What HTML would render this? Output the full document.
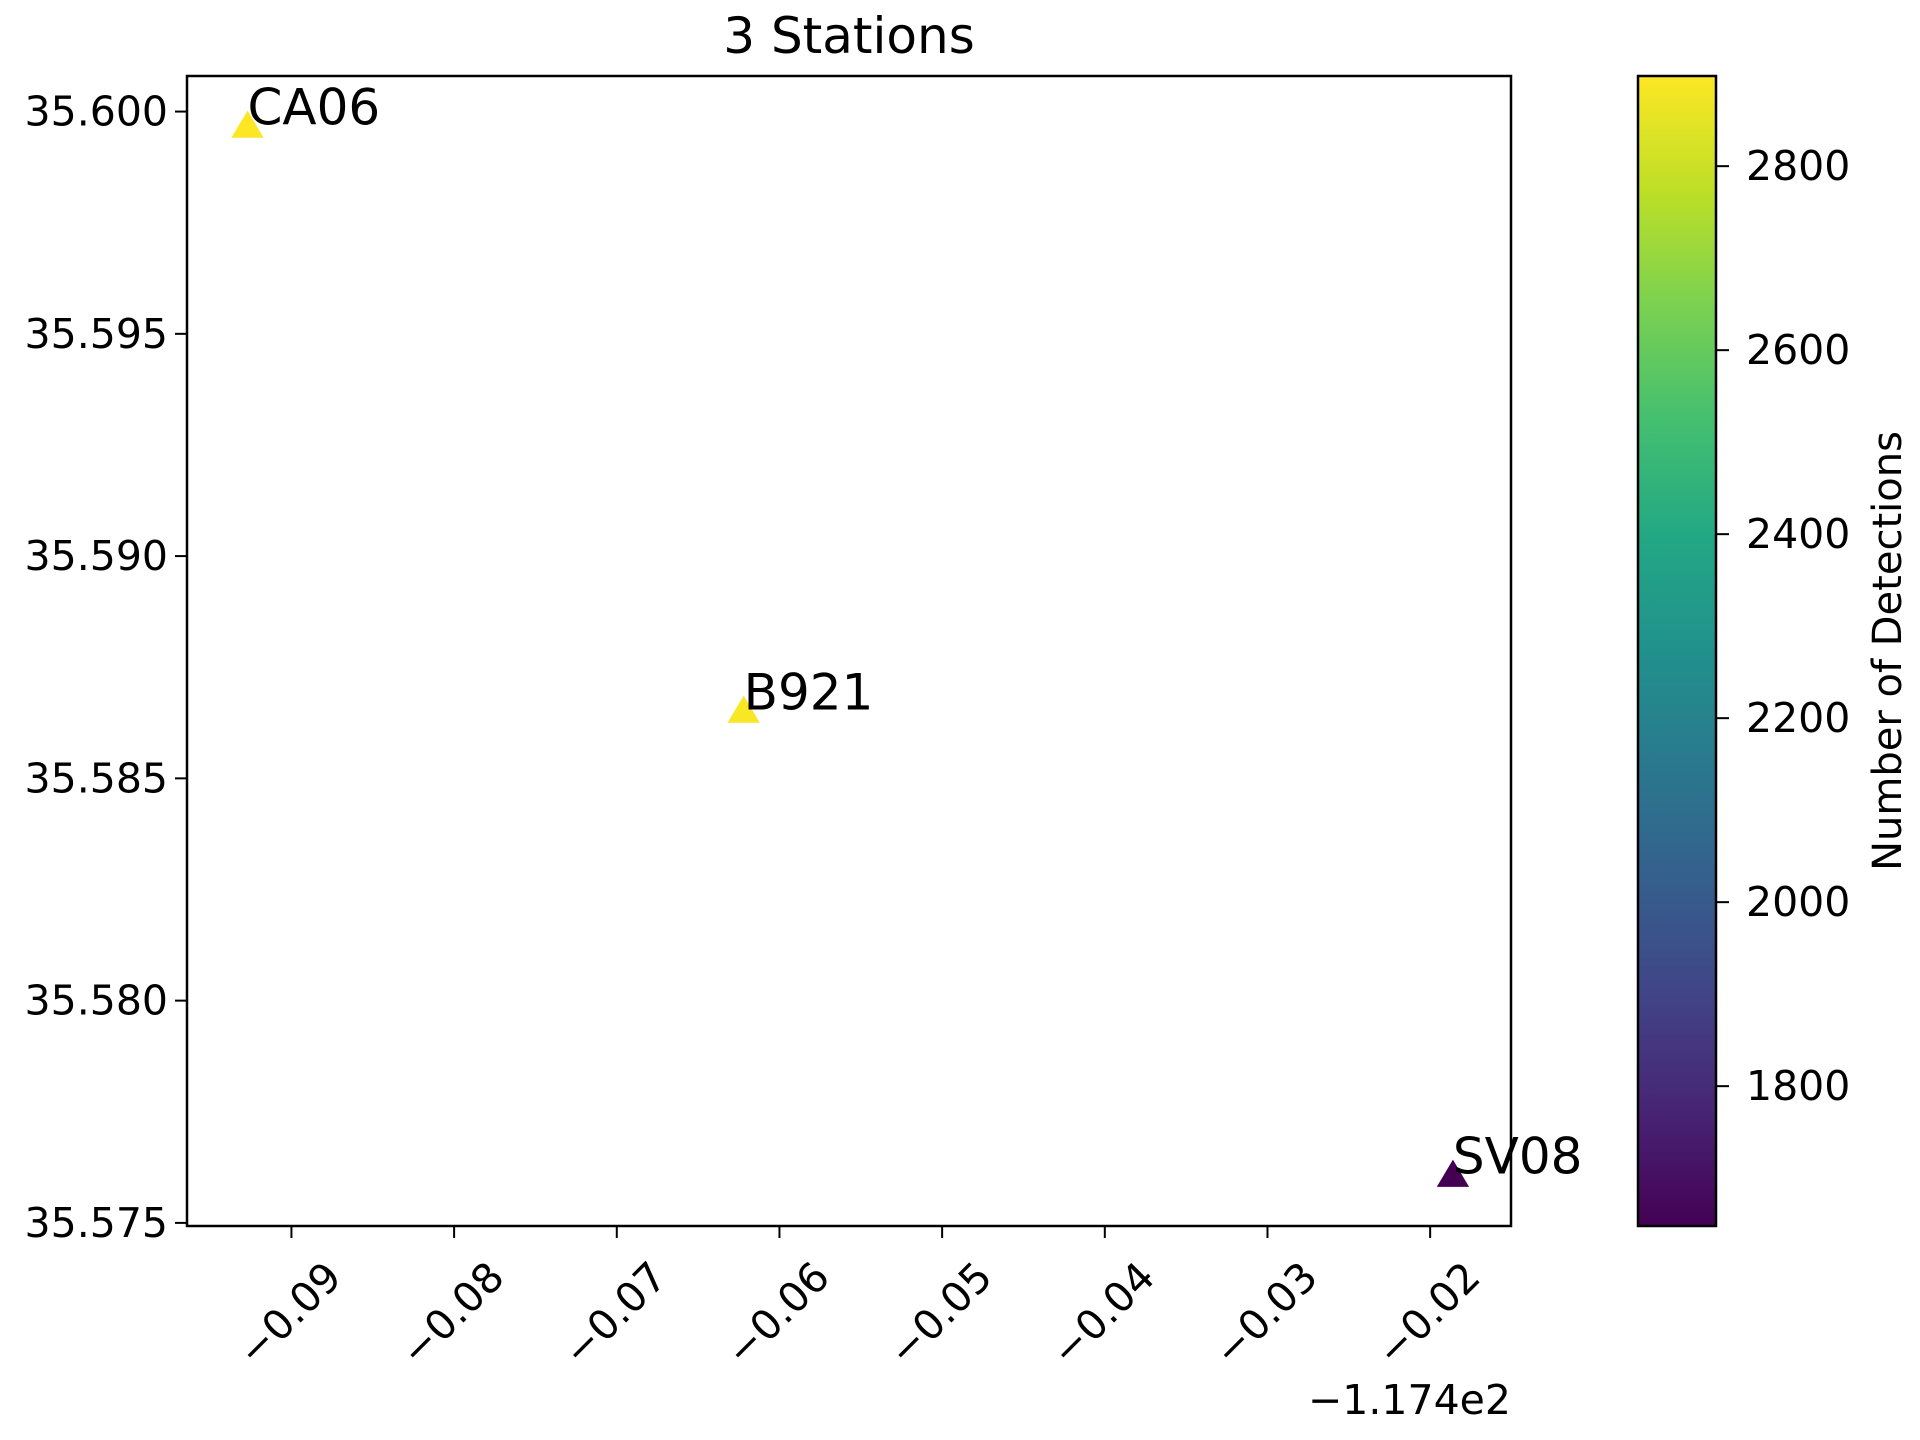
<!DOCTYPE html>
<html><head><meta charset="utf-8"><style>html,body{margin:0;padding:0;background:#fff}svg{display:block}</style></head>
<body>
<svg id="chart" width="1920" height="1440" viewBox="0 0 1920 1440" xmlns="http://www.w3.org/2000/svg" font-family="DejaVu Sans, Liberation Sans, sans-serif">
<defs>
<linearGradient id="viridis" x1="0" y1="1" x2="0" y2="0">
<stop offset="0" stop-color="#440154"/><stop offset="0.1" stop-color="#482475"/><stop offset="0.2" stop-color="#414487"/><stop offset="0.3" stop-color="#355f8d"/><stop offset="0.4" stop-color="#2a788e"/><stop offset="0.5" stop-color="#21918c"/><stop offset="0.6" stop-color="#22a884"/><stop offset="0.7" stop-color="#44bf70"/><stop offset="0.8" stop-color="#7ad151"/><stop offset="0.9" stop-color="#bddf26"/><stop offset="1" stop-color="#fde725"/>
</linearGradient>
</defs>
<text x="849" y="36" font-size="50" text-anchor="middle" dominant-baseline="central">3 Stations</text>
<g id="plot"></g>
<rect x="187" y="76" width="1324" height="1150" fill="none" stroke="#000" stroke-width="2.5"/>
<rect x="1638" y="76" width="78" height="1150" fill="url(#viridis)" stroke="#000" stroke-width="2.5"/>
<text x="1511" y="1414" font-size="41" text-anchor="end">−1.174e2</text>
<text transform="translate(1888,651) rotate(-90)" font-size="40" text-anchor="middle" dominant-baseline="central">Number of Detections</text>
</svg>
<script>
const stations = ["CA06", "B921", "SV08"];
const lonOffsets = [-0.0927, -0.0622, -0.0186];
const lats = [35.59964, 35.58648, 35.57604];
const detections = [2898, 2890, 1648];
const xTicks = [-0.09, -0.08, -0.07, -0.06, -0.05, -0.04, -0.03, -0.02];
const xTickLabels = ["−0.09", "−0.08", "−0.07", "−0.06", "−0.05", "−0.04", "−0.03", "−0.02"];
const yTicks = [35.575, 35.580, 35.585, 35.590, 35.595, 35.600];
const yTickLabels = ["35.575", "35.580", "35.585", "35.590", "35.595", "35.600"];
const cTicks = [1800, 2000, 2200, 2400, 2600, 2800];
const cTickLabels = ["1800", "2000", "2200", "2400", "2600", "2800"];

const L=187,R=1511,T=76,B=1226;
const xMin=-0.09642,xMax=-0.01503,yMin=35.57493,yMax=35.6008,cMin=1648,cMax=2898;
const sx=v=>L+(v-xMin)/(xMax-xMin)*(R-L);
const sy=v=>B-(v-yMin)/(yMax-yMin)*(B-T);
const sc=v=>B-(v-cMin)/(cMax-cMin)*(B-T);
const stops=[[68,1,84],[72,36,117],[65,68,135],[53,95,141],[42,120,142],[33,145,140],[34,168,132],[68,191,112],[122,209,81],[189,223,38],[253,231,37]];
function cmap(v){let t=Math.max(0,Math.min(1,(v-cMin)/(cMax-cMin)))*10;let i=Math.min(9,Math.floor(t)),f=t-i;const a=stops[i],b=stops[i+1];return `rgb(${a.map((c,k)=>Math.round(c+(b[k]-c)*f)).join(',')})`;}
const NS="http://www.w3.org/2000/svg",svg=document.getElementById('chart'),g=document.getElementById('plot');
function mk(tag,attrs,parent,text){const e=document.createElementNS(NS,tag);for(const k in attrs)e.setAttribute(k,attrs[k]);if(text!==undefined)e.textContent=text;(parent||svg).appendChild(e);return e;}
xTicks.forEach((v,i)=>{const x=sx(v);
const t=mk('line',{x1:x,y1:B,x2:x,y2:B+12,stroke:'#000','stroke-width':2});


const l=mk('text',{x:x-2,y:B+88,'font-size':41,'text-anchor':'middle','dominant-baseline':'central',transform:`rotate(-45 ${x-2} ${B+88})`},svg,xTickLabels[i]);

});
yTicks.forEach((v,i)=>{const y=sy(v);
const t=mk('line',{x1:L-12,y1:y,x2:L,y2:y,stroke:'#000','stroke-width':2});


const l=mk('text',{x:L-19,y:y,'font-size':41,'text-anchor':'end','dominant-baseline':'central'},svg,yTickLabels[i]);

});
cTicks.forEach((v,i)=>{const y=sc(v);
const t=mk('line',{x1:1716,y1:y,x2:1729,y2:y,stroke:'#000','stroke-width':2});


const l=mk('text',{x:1746,y:y,'font-size':41,'dominant-baseline':'central'},svg,cTickLabels[i]);

});
stations.forEach((s,i)=>{const x=sx(lonOffsets[i]),y=sy(lats[i]),r=17;
const p=mk('polygon',{points:`${x},${y-r} ${x+r*0.95},${y+r*0.6} ${x-r*0.95},${y+r*0.6}`,fill:cmap(detections[i])},g);


const l=mk('text',{x:x,y:y-3,'font-size':50},g,s);

});
</script>
</body></html>
